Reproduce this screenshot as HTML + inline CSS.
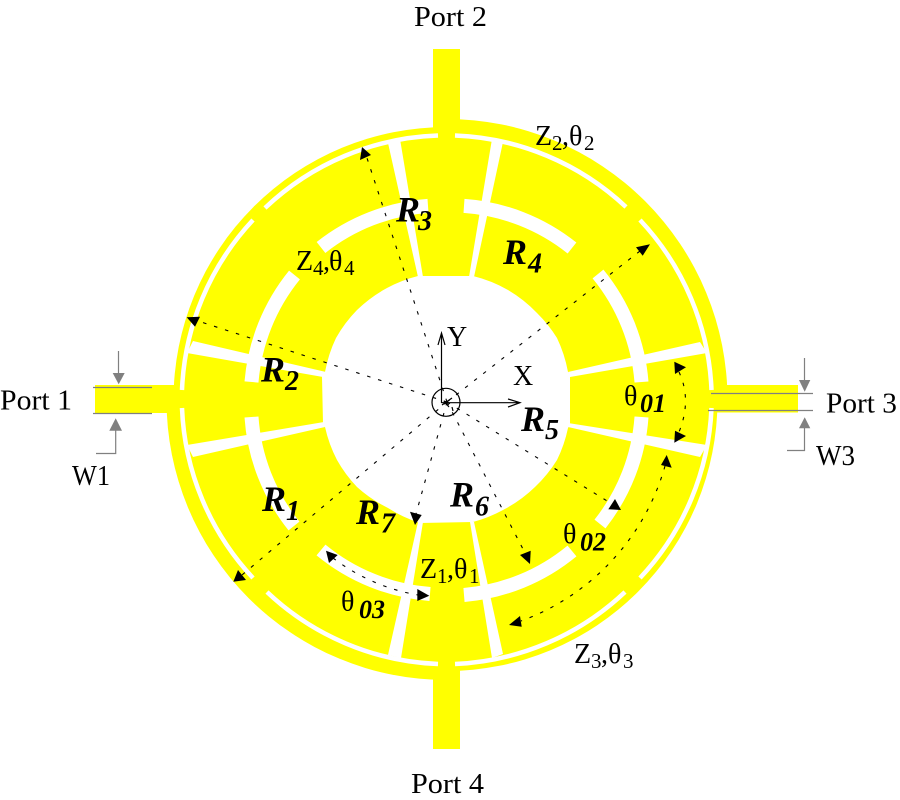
<!DOCTYPE html>
<html><head><meta charset="utf-8"><style>
html,body{margin:0;padding:0;background:#fff;}
svg{display:block;}
text{font-family:"Liberation Serif",serif;fill:#000;}
.p{font-size:28px;}
.z{font-size:28px;}
.s{font-size:21px;}
.r{font-size:36px;font-weight:bold;font-style:italic;}
.rs{font-size:28px;font-weight:bold;font-style:italic;}
.t{font-size:26px;font-weight:bold;font-style:italic;}
.d{fill:none;stroke:#000;stroke-width:1.1;stroke-dasharray:3.5 8;}
</style></head><body>
<svg width="900" height="800" viewBox="0 0 900 800" xmlns="http://www.w3.org/2000/svg">
<rect width="900" height="800" fill="#fff"/>
<g fill="#ffff00">
<path d="M446.5,400 L446.5,127 A273,273 0 0 0 173.5,400 Z"/>
<path d="M446.5,400 L446.5,119 A281,281 0 0 1 727.5,400 Z"/>
<path d="M446.5,400 L717.5,400 A271,271 0 0 1 446.5,671 Z"/>
<path d="M446.5,400 L446.5,680 A280,280 0 0 1 166.5,400 Z"/>
<rect x="433" y="49" width="27" height="100"/>
<rect x="433" y="650" width="27" height="99"/>
<rect x="95" y="385" width="100" height="28"/>
<rect x="700" y="385" width="98" height="27.5"/>
</g>
<g fill="#fff">
<path d="M423,276 L473,276 A135,135 0 0 1 508,290 A135,135 0 0 1 537,313 A135,135 0 0 1 557,338 A135,135 0 0 1 568,372 L570,376 L570,424 L568,428 A135,135 0 0 1 557,460 A135,135 0 0 1 535,487 A135,135 0 0 1 503,510 A135,135 0 0 1 473,522 L420,523 A135,135 0 0 1 388,508 A135,135 0 0 1 357,487 A135,135 0 0 1 337,460 A135,135 0 0 1 325,427 L323,423 L322,377 L325,372 A135,135 0 0 1 336,338 A135,135 0 0 1 357,310 A135,135 0 0 1 387,288 A135,135 0 0 1 418,276 Z"/>
<polygon points="388,143 400,139 423,277 418,277"/>
<polygon points="492,139 503,142 474,277 469,277"/>
<polygon points="193,341 326,372 323,377 187,353"/>
<polygon points="187,445 324,422 325,427 193,457"/>
<polygon points="700,342 707,353 570,377 568,372"/>
<polygon points="568,423 707,445 700,457 568,427"/>
<polygon points="418,522 423,522 401,658 388,655"/>
<polygon points="470,522 474,522 503,654 492,658"/>
</g>
<g fill="none" stroke="#fff">
<g stroke-width="14">
<path d="M321,247.5 A195,195 0 0 1 428,205.9"/>
<path d="M294.5,275 A195,195 0 0 0 251.5,382"/>
<path d="M464,205.9 A195,195 0 0 1 572,248"/>
<path d="M598,274 A195,195 0 0 1 641.5,382"/>
<path d="M641.5,417 A195,195 0 0 1 600,524"/>
<path d="M572,551 A195,195 0 0 1 464,595"/>
<path d="M321,550 A195,195 0 0 0 430,594"/>
<path d="M251.5,417 A195,195 0 0 0 294,526"/>
</g>
<g stroke-width="4.5">
<path d="M438,135.5 A264,264 0 0 0 265,208"/>
<path d="M253,220 A264,264 0 0 0 182,390"/>
<path d="M455,135.5 A264,264 0 0 1 626,207"/>
<path d="M640,220 A264,264 0 0 1 711.5,390"/>
<path d="M711.5,408 A264,264 0 0 1 640,578"/>
<path d="M625,592 A264,264 0 0 1 455,664"/>
<path d="M182,408 A264,264 0 0 0 253,578"/>
<path d="M267,592 A264,264 0 0 0 438,664"/>
</g>
</g>
<!-- grey dims -->
<g stroke="#808080" stroke-width="1.2" fill="none">
<path d="M711,393.5 H813 M708,410.5 H813"/>
<path d="M804.5,358 V382 M804.5,428 V450.5 H787"/>
<path d="M93,387.5 H152 M93,413.5 H152"/>
<path d="M118.5,351 V374 M115.7,430 V453.5 H96"/>
</g>
<g fill="#808080">
<polygon points="799,380 810.3,380 804.7,391.7"/>
<polygon points="799,428.3 810.3,428.3 804.7,417.3"/>
<polygon points="112.7,373 124.7,373 118.7,384.3"/>
<polygon points="109.3,430.7 122,430.7 115.7,418.3"/>
</g>
<!-- axes -->
<g stroke="#000" stroke-width="1.2" fill="none">
<path d="M441.5,403 V333 M438,345 L441.5,333 L445,345"/>
<path d="M441.5,402.7 H520 M508,399 L520,402.7 L508,407"/>
<circle cx="446" cy="402.3" r="14"/>
<path d="M442,405 L452,398 M444,401 L449,407 M452,407 L453,411"/>
</g>
<!-- dashed radial -->
<g>
<path class="d" d="M447,402 L366,155"/>
<path class="d" d="M447,402 L198,321"/>
<path class="d" d="M447,402 L640,251"/>
<path class="d" d="M447,402 L242,575"/>
<path class="d" d="M447,402 L416,514"/>
<path class="d" d="M447,402 L525,553"/>
<path class="d" d="M447,402 L612,504"/>
<path class="d" d="M679,372 Q692,400 679,432"/>
<path class="d" d="M665,466 A232,232 0 0 1 521,621"/>
<path class="d" d="M333,558 A195,195 0 0 0 418,595"/>
</g>
<g fill="#000">
<polygon points="362,147 360,160 371,155"/>
<polygon points="186.7,317.3 200,316.7 195,326.7"/>
<polygon points="650,244.3 636,247.3 642.7,255.7"/>
<polygon points="233.3,581.7 246,580 238,570"/>
<polygon points="415,525 410,511.7 421.7,515"/>
<polygon points="530,564 520,555 530.7,550.7"/>
<polygon points="621,510 608.3,509.3 615,499"/>
<polygon points="686,367.3 674.3,361.7 675,374"/>
<polygon points="686,436 675,430.7 674.3,442.7"/>
<polygon points="666.7,455 661,465 671.7,467.7"/>
<polygon points="509,625 520,616 521.7,626.7"/>
<polygon points="326,550.7 337.7,555 329,563"/>
<polygon points="429.3,595.7 417.3,589 417.3,601"/>
</g>
<!-- ports -->
<text class="p" x="0" y="409.5" textLength="72" lengthAdjust="spacingAndGlyphs">Port 1</text>
<text class="p" x="414" y="26" textLength="73" lengthAdjust="spacingAndGlyphs">Port 2</text>
<text class="p" x="826" y="412.5" textLength="71" lengthAdjust="spacingAndGlyphs">Port 3</text>
<text class="p" x="411" y="793" textLength="73" lengthAdjust="spacingAndGlyphs">Port 4</text>
<text class="p" x="72" y="485" textLength="38" lengthAdjust="spacingAndGlyphs">W1</text>
<text class="p" x="816" y="465" textLength="39" lengthAdjust="spacingAndGlyphs">W3</text>
<text class="p" x="513" y="385">X</text>
<text class="p" x="447" y="346">Y</text>
<!-- Z labels -->
<text class="z" x="296" y="270">Z</text><text class="s" x="313" y="275">4</text><text class="z" x="323" y="270">,</text><text class="z" x="329" y="270">θ</text><text class="s" x="344" y="275">4</text>
<text class="z" x="535" y="145">Z</text><text class="s" x="552" y="150">2</text><text class="z" x="562" y="145">,</text><text class="z" x="569" y="145">θ</text><text class="s" x="584" y="150">2</text>
<text class="z" x="574" y="663">Z</text><text class="s" x="591" y="668">3</text><text class="z" x="601" y="663">,</text><text class="z" x="608" y="663">θ</text><text class="s" x="623" y="668">3</text>
<text class="z" x="420" y="578">Z</text><text class="s" x="437" y="583">1</text><text class="z" x="447" y="578">,</text><text class="z" x="454" y="578">θ</text><text class="s" x="469" y="583">1</text>
<!-- thetas -->
<text class="z" x="624" y="405">θ</text><text class="t" x="640" y="412">01</text>
<text class="z" x="563" y="543">θ</text><text class="t" x="580" y="550.5">02</text>
<text class="z" x="341" y="610.5">θ</text><text class="t" x="359" y="618">03</text>
<!-- R labels -->
<text class="r" x="262" y="511">R</text><text class="rs" x="286" y="520">1</text>
<text class="r" x="261" y="381.5">R</text><text class="rs" x="285" y="390">2</text>
<text class="r" x="396" y="221.5">R</text><text class="rs" x="418" y="230">3</text>
<text class="r" x="503" y="264">R</text><text class="rs" x="528" y="272.5">4</text>
<text class="r" x="521" y="431">R</text><text class="rs" x="545" y="439">5</text>
<text class="r" x="450" y="506.5">R</text><text class="rs" x="475" y="515.5">6</text>
<text class="r" x="356" y="524">R</text><text class="rs" x="381" y="532.5">7</text>
</svg>
</body></html>
